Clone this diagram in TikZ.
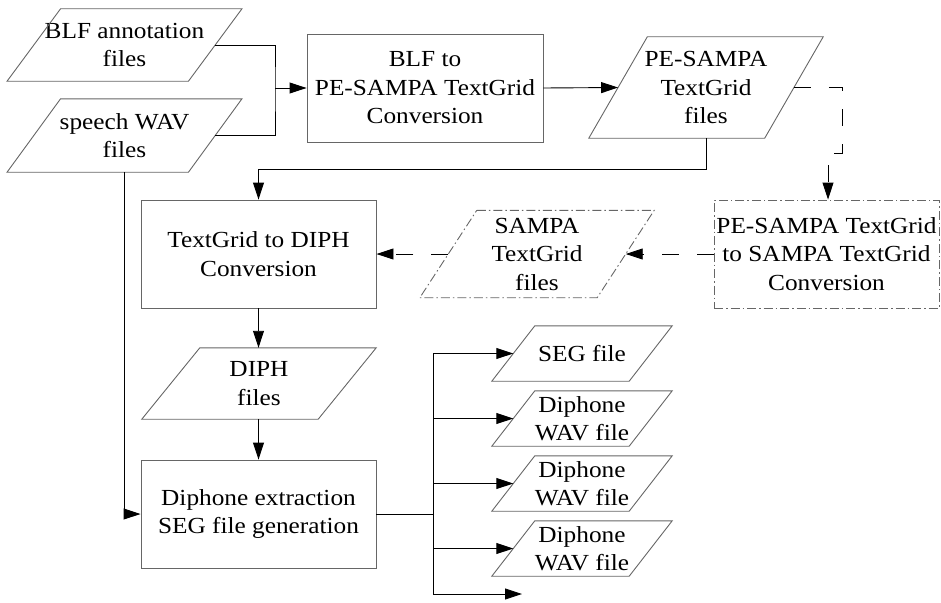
\documentclass[tikz,border=0pt]{standalone}
\usepackage{fontspec}
\setmainfont{Liberation Serif}[FakeStretch=1.1]
\usetikzlibrary{positioning, arrows.meta}

\begin{document}
\begin{tikzpicture}[
    x=1pt, y=-1pt,
    every node/.style={font=\fontsize{23}{28.5}\selectfont, align=center, inner sep=0pt},
    proc/.style={draw=black!60, line width=0.9pt, minimum width=#1, minimum height=108pt},
    io/.style 2 args={minimum width=#1, minimum height=#2},
    ioline/.style={draw=black!60, line width=0.9pt},
    dashdot/.style={dash pattern=on 9pt off 3pt on 1.5pt off 3pt},
    wire/.style={line width=0.9pt},
    flow/.style={wire, -{Triangle[length=17pt,width=11pt]}},
    dflow/.style={flow, dash pattern=on 17pt off 18pt},
]
\useasboundingbox (0,0) rectangle (941,602);

% inputs
\node[io={181pt}{72pt}] (blf) at (124.5,45) {BLF annotation\\files};
\node[io={181pt}{73pt}] (wav) at (124.5,135.5) {speech WAV\\files};

% conversion chain
\node[proc=236pt] (blf2pe) at (425,88) {BLF to\\PE-SAMPA TextGrid\\Conversion};
\node[io={175.5pt}{101pt}] (petg) at (706,87.5) {PE-SAMPA\\TextGrid\\files};
\node[proc=225pt, dashdot] (pe2s) at (826.5,254) {PE-SAMPA TextGrid\\to SAMPA TextGrid\\Conversion};
\node[io={177pt}{87pt}] (stg) at (537,254) {SAMPA\\TextGrid\\files};
\node[proc=235pt] (tg2diph) at (258.5,254) {TextGrid to DIPH\\Conversion};
\node[io={176pt}{71pt}] (diph) at (259,383.5) {DIPH\\files};
\node[proc=235pt] (extract) at (258.5,514) {Diphone extraction\\SEG file generation};

% outputs
\node[io={137pt}{55pt}] (seg) at (582,353.5) {SEG file};
\node[io={137pt}{55pt}] (dwav1) at (582,418.5) {Diphone\\WAV file};
\node[io={137pt}{55pt}] (dwav2) at (582,483.5) {Diphone\\WAV file};
\node[io={137pt}{55pt}] (dwav3) at (582,548.5) {Diphone\\WAV file};

% parallelogram outlines
\foreach \n/\s in {blf/26.75pt, wav/26.75pt, petg/29.25pt, diph/29pt, seg/21.5pt, dwav1/21.5pt, dwav2/21.5pt, dwav3/21.5pt}
    \draw[ioline] ([xshift=\s]\n.north west) -- ([xshift=\s]\n.north east)
        -- ([xshift=-\s]\n.south east) -- ([xshift=-\s]\n.south west) -- cycle;
\draw[ioline, dashdot] ([xshift=28.5pt]stg.north west) -- ([xshift=28.5pt]stg.north east)
    -- ([xshift=-28.5pt]stg.south east) -- ([xshift=-28.5pt]stg.south west) -- cycle;

% connectors
\coordinate (join) at (275,88);
\draw[wire] (blf.east) -| (join) |- (wav.east);
\draw[flow] (join) -- (blf2pe.west);
\draw[flow] (blf2pe.east) -- (petg.west);
\draw[flow] (petg.south) -- ++(0,31) -| (tg2diph.north);
\draw[dflow] (petg.east) -| (842,153) -| ([xshift=1.5pt]pe2s.north);
\draw[dflow] (pe2s.west) -- (stg.east);
\draw[dflow] (stg.west) -- (tg2diph.east);
\draw[flow] (tg2diph.south) -- (tg2diph.south |- diph.north);
\draw[flow] (extract.north |- diph.south) -- (extract.north);
\draw[flow] (wav.south) |- (extract.west);

\coordinate (bus) at (433,514);
\coordinate (spare) at (522,594);
\draw[wire] (extract.east) -- (bus);
\draw[wire] (bus |- seg.west) -- (bus |- spare);
\foreach \n in {seg, dwav1, dwav2, dwav3}
    \draw[flow] (bus |- \n.west) -- (\n.west);
\draw[flow] (bus |- spare) -- (spare);

\end{tikzpicture}
\end{document}
